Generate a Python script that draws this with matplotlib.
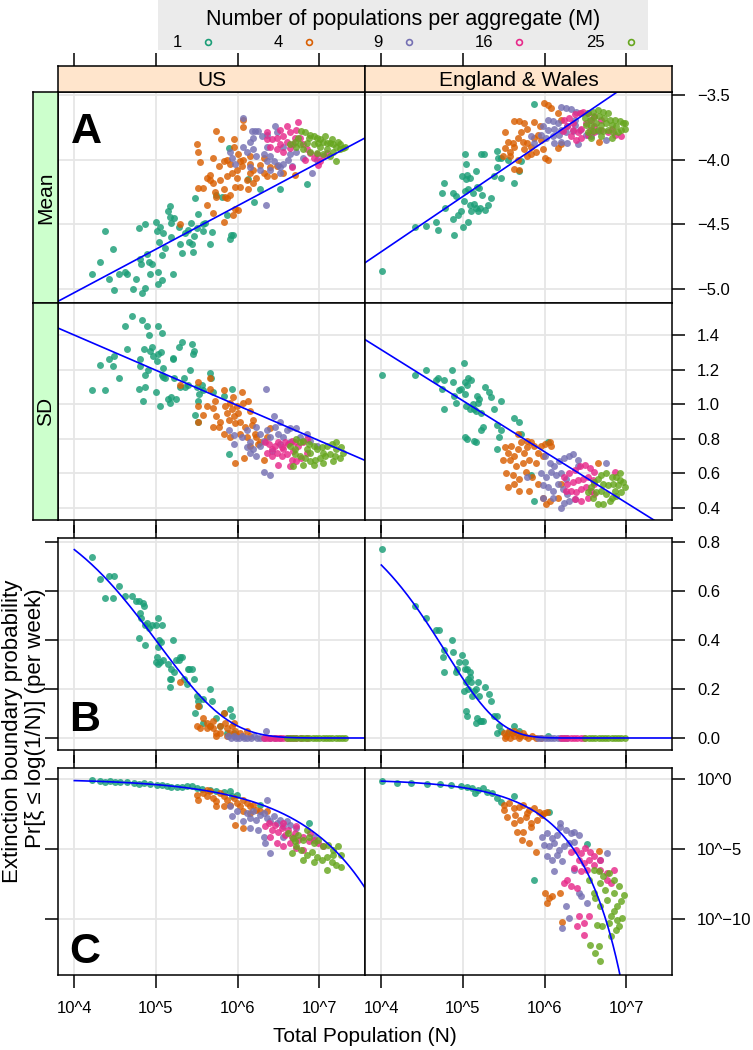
import numpy as np
import matplotlib
matplotlib.use("Agg")
import matplotlib.pyplot as plt
from matplotlib.patches import Rectangle
from math import erfc, sqrt

plt.rcParams['font.family'] = ['Liberation Sans', 'DejaVu Sans']

# ---------------- data ----------------
M_VALUES = [1, 4, 9, 16, 25]
M_COLORS = ['#1B9E77', '#D95F02', '#7570B3', '#E7298A', '#66A61E']
COUNTRIES = ['US', 'England & Wales']
X_TICKS = [4, 5, 6, 7]
X_TICK_LABELS = ['10^4', '10^5', '10^6', '10^7']
MEAN_TICKS = [-5.0, -4.5, -4.0, -3.5]
MEAN_TICK_LABELS = ['\u22125.0', '\u22124.5', '\u22124.0', '\u22123.5']
SD_TICKS = [0.4, 0.6, 0.8, 1.0, 1.2, 1.4]
SD_TICK_LABELS = ['0.4', '0.6', '0.8', '1.0', '1.2', '1.4']
PROB_TICKS = [0.0, 0.2, 0.4, 0.6, 0.8]
PROB_TICK_LABELS = ['0.0', '0.2', '0.4', '0.6', '0.8']
LOGPROB_TICKS = [0, -5, -10]
LOGPROB_TICK_LABELS = ['10^0', '10^\u22125', '10^\u221210']

# fitted lines in log10(N): (intercept, slope)
mean_fit_us = (-6.371, 0.3358)
sd_fit_us = (2.215, -0.2037)
mean_fit_ew = (-6.421, 0.4274)
sd_fit_ew = (2.496, -0.2952)

# ---- Panel A (Mean), US ----  (log10 N, mean)
us_mean_m1 = [(4.22,-4.88),(4.32,-4.79),(4.38,-4.55),(4.47,-4.69),(4.42,-4.92),(4.49,-5.01),(4.55,-4.88),
    (4.62,-4.87),(4.64,-4.88),(4.72,-5.00),(4.76,-4.92),(4.79,-4.53),(4.80,-4.77),(4.82,-4.81),(4.83,-5.03),
    (4.86,-4.99),(4.87,-4.50),(4.89,-4.73),(4.91,-4.79),(4.93,-4.88),(4.95,-4.81),(5.00,-4.48),(5.01,-4.55),
    (5.02,-4.87),(5.03,-4.96),(5.04,-4.64),(5.05,-4.52),(5.07,-4.74),(5.07,-4.93),(5.09,-4.57),(5.11,-4.68),
    (5.15,-4.40),(5.17,-4.36),(5.17,-4.44),(5.18,-4.49),(5.19,-4.60),(5.21,-4.88),(5.22,-4.45),(5.28,-4.52),
    (5.30,-4.65),(5.32,-4.72),(5.36,-4.57),(5.39,-4.54),(5.41,-4.64),(5.43,-4.49),(5.44,-4.65),(5.45,-4.71),
    (5.47,-4.59),(5.48,-4.30),(5.50,-4.53),(5.52,-4.42),(5.57,-4.55),(5.58,-4.50),(5.60,-4.49),(5.66,-4.65),
    (5.68,-4.56),(5.74,-4.27),(5.81,-4.29),(5.87,-4.43),(5.91,-4.61),(5.92,-4.58),(5.94,-4.58),(5.89,-3.91),
    (6.13,-4.15),(6.20,-4.33),(6.28,-4.23),(6.52,-4.23),(6.85,-4.19)]
us_mean_m4 = [(5.74,-3.78),(5.80,-3.84),(6.07,-3.69),(6.06,-3.75),(5.95,-3.84),(5.96,-3.90),(5.50,-3.88),
    (5.51,-3.94),(5.54,-4.02),(5.70,-3.99),(5.83,-4.01),(5.77,-4.05),(5.87,-4.00),(5.91,-4.03),(6.01,-3.96),
    (6.03,-4.01),(6.05,-4.05),(6.07,-4.00),(6.15,-4.03),(5.99,-4.08),(5.93,-4.10),(5.87,-4.13),(5.79,-4.16),
    (5.66,-4.12),(5.66,-4.16),(5.62,-4.14),(5.70,-4.18),(5.72,-4.25),(5.74,-4.29),(5.83,-4.23),(5.85,-4.29),
    (5.91,-4.27),(5.87,-4.30),(5.97,-4.21),(5.99,-4.14),(6.03,-4.21),(6.11,-4.16),(6.13,-4.23),(6.15,-4.10),
    (6.19,-4.08),(6.23,-4.14),(6.32,-4.10),(6.36,-4.13),(6.40,-4.06),(6.44,-4.13),(6.48,-4.05),(6.56,-4.10),
    (6.70,-4.12),(5.52,-4.22),(5.58,-4.22),(5.62,-4.35),(5.70,-4.41),(5.83,-4.48),(5.94,-4.43),(5.30,-4.50),
    (5.97,-4.38),(6.01,-4.39),(6.15,-3.97),(6.27,-4.04),(6.19,-4.18),(6.32,-3.99)]
us_mean_m9 = [(6.06,-3.68),(6.17,-3.78),(6.21,-3.78),(6.25,-3.78),(6.15,-3.86),(6.19,-3.83),(6.30,-3.82),
    (6.36,-3.81),(6.46,-3.74),(6.48,-3.79),(5.91,-3.94),(5.93,-3.99),(5.97,-4.03),(6.11,-3.94),(6.19,-3.92),
    (6.23,-3.97),(6.32,-3.96),(6.36,-4.01),(6.40,-3.97),(6.44,-4.01),(6.50,-4.04),(6.52,-4.06),(6.56,-4.03),
    (6.62,-4.00),(6.66,-4.05),(6.15,-4.06),(6.27,-4.08),(6.40,-4.08),(6.52,-4.10),(6.64,-3.96),(6.72,-3.94),
    (6.80,-3.99),(6.91,-4.10),(6.97,-4.00),(6.35,-4.35),(6.07,-3.90),(6.56,-3.90),(6.36,-3.90)]
us_mean_m16 = [(6.36,-3.79),(6.42,-3.84),(6.48,-3.83),(6.52,-3.88),(6.56,-3.82),(6.60,-3.86),(6.64,-3.79),
    (6.68,-3.88),(6.74,-3.71),(6.72,-3.77),(6.76,-3.83),(6.80,-3.88),(6.85,-3.92),(6.89,-3.95),(6.93,-3.99),
    (6.97,-3.96),(7.01,-4.01),(7.05,-3.97),(7.09,-3.95),(6.83,-4.00),(6.66,-4.06),(6.56,-3.94),(6.48,-3.92),
    (6.40,-3.90),(6.52,-3.77),(6.60,-3.74),(6.70,-3.83),(6.64,-3.91),(6.99,-4.04),(6.36,-3.84)]
us_mean_m25 = [(6.64,-3.88),(6.70,-3.86),(6.74,-3.83),(6.78,-3.78),(6.83,-3.79),(6.89,-3.81),(6.93,-3.82),
    (6.97,-3.83),(7.01,-3.84),(7.05,-3.86),(7.09,-3.87),(7.13,-3.87),(7.17,-3.88),(7.21,-3.90),(7.25,-3.88),
    (7.29,-3.91),(7.31,-3.90),(6.76,-3.88),(6.85,-3.87),(6.93,-3.88),(7.01,-3.90),(7.09,-3.92),(7.17,-3.94),
    (7.25,-3.92),(6.80,-3.92),(6.89,-3.94),(6.97,-3.95),(7.05,-3.96),(7.13,-3.97),(7.21,-4.01),(6.87,-3.83),
    (6.99,-3.87),(7.07,-3.82),(7.15,-3.84),(7.23,-3.86),(6.72,-3.90)]

# ---- Panel A (Mean), England & Wales ----
ew_mean_m1 = [(4.01,-4.86),(4.41,-4.52),(4.55,-4.51),(4.67,-4.48),(4.70,-4.54),(4.74,-4.26),(4.77,-4.18),
    (4.78,-4.37),(4.88,-4.46),(4.89,-4.58),(4.88,-4.26),(4.91,-4.28),(4.94,-4.43),(4.97,-4.40),(4.99,-4.13),
    (5.00,-4.52),(5.01,-4.32),(5.02,-4.24),(5.03,-3.96),(5.04,-4.03),(5.04,-4.15),(5.05,-4.12),(5.06,-4.23),
    (5.06,-4.48),(5.08,-4.14),(5.08,-4.35),(5.10,-4.40),(5.12,-4.26),(5.14,-4.34),(5.16,-4.37),(5.16,-4.09),
    (5.17,-4.21),(5.18,-4.40),(5.20,-4.22),(5.21,-4.37),(5.22,-3.96),(5.23,-4.27),(5.26,-3.96),(5.27,-4.39),
    (5.31,-4.35),(5.34,-4.30),(5.38,-4.13),(5.42,-4.06),(5.42,-3.93),(5.43,-3.99),(5.46,-4.14),(5.47,-3.99),
    (5.63,-4.18),(5.69,-4.09),(5.87,-3.57),(5.55,-4.00),(5.71,-4.01)]
ew_mean_m4 = [(5.99,-3.56),(6.04,-3.58),(6.08,-3.60),(6.16,-3.64),(5.63,-3.70),(5.69,-3.70),(5.75,-3.72),
    (5.87,-3.71),(5.79,-3.76),(5.71,-3.79),(5.67,-3.83),(5.52,-3.79),(5.55,-3.86),(5.61,-3.87),(5.51,-3.91),
    (5.57,-3.94),(5.63,-3.90),(5.73,-3.86),(5.79,-3.87),(5.83,-3.90),(5.87,-3.83),(5.92,-3.81),(5.96,-3.85),
    (5.83,-3.96),(5.90,-3.94),(5.98,-3.92),(6.04,-4.00),(6.00,-3.99),(5.79,-3.97),(5.67,-4.00),(5.62,-4.07),
    (5.69,-4.08),(5.49,-3.97),(5.57,-3.97),(5.75,-3.92),(6.20,-3.69),(6.16,-3.91),(6.67,-3.86),(6.20,-3.88),
    (5.94,-3.74)]
ew_mean_m9 = [(6.20,-3.59),(6.26,-3.60),(6.32,-3.61),(6.39,-3.63),(6.45,-3.64),(6.04,-3.69),(6.10,-3.70),
    (6.16,-3.72),(5.98,-3.74),(6.04,-3.77),(6.12,-3.76),(6.20,-3.77),(6.28,-3.74),(6.37,-3.73),(5.96,-3.81),
    (6.02,-3.83),(6.10,-3.82),(6.18,-3.81),(6.26,-3.79),(6.35,-3.78),(6.43,-3.77),(6.51,-3.81),(6.20,-3.86),
    (6.28,-3.87),(6.41,-3.88),(5.87,-3.87),(6.12,-3.87),(6.57,-3.82),(6.75,-3.85),(6.65,-3.78),(5.83,-3.82),
    (6.37,-3.69)]
ew_mean_m16 = [(6.24,-3.69),(6.30,-3.68),(6.37,-3.65),(6.43,-3.64),(6.47,-3.63),(6.53,-3.64),(6.28,-3.74),
    (6.35,-3.77),(6.41,-3.79),(6.45,-3.76),(6.51,-3.72),(6.57,-3.69),(6.61,-3.66),(6.32,-3.82),(6.39,-3.85),
    (6.45,-3.83),(6.53,-3.81),(6.61,-3.79),(6.69,-3.77),(6.78,-3.79),(6.86,-3.81),(6.94,-3.82),(6.61,-3.74),
    (6.69,-3.69),(6.35,-3.72),(6.55,-3.77),(6.82,-3.76),(6.22,-3.78)]
ew_mean_m25 = [(6.53,-3.64),(6.59,-3.63),(6.65,-3.62),(6.71,-3.63),(6.78,-3.64),(6.49,-3.68),(6.55,-3.69),
    (6.61,-3.67),(6.67,-3.66),(6.73,-3.68),(6.80,-3.69),(6.86,-3.69),(6.92,-3.70),(6.96,-3.72),(6.98,-3.76),
    (6.51,-3.73),(6.57,-3.74),(6.63,-3.72),(6.69,-3.73),(6.75,-3.72),(6.82,-3.73),(6.88,-3.74),(6.94,-3.77),
    (6.53,-3.79),(6.59,-3.78),(6.65,-3.77),(6.71,-3.78),(6.78,-3.77),(6.84,-3.79),(6.90,-3.79),(6.57,-3.83),
    (6.69,-3.82),(6.82,-3.83),(6.98,-3.72)]

# ---- SD, US ----
us_sd_m1 = [(4.22,1.08),(4.31,1.23),(4.38,1.08),(4.42,1.26),(4.47,1.22),(4.49,1.28),(4.55,1.15),(4.62,1.45),
    (4.64,1.32),(4.71,1.51),(4.79,1.09),(4.80,1.26),(4.81,1.22),(4.83,1.49),(4.84,1.02),(4.85,1.32),(4.86,1.10),
    (4.87,1.17),(4.89,1.45),(4.90,1.20),(4.92,1.40),(4.93,1.31),(4.95,1.33),(4.96,1.28),(5.00,1.07),(5.01,1.25),
    (5.02,1.45),(5.03,1.29),(5.05,0.99),(5.06,1.30),(5.07,1.41),(5.07,1.17),(5.08,1.21),(5.09,1.16),(5.11,1.15),
    (5.15,1.03),(5.17,1.01),(5.19,1.04),(5.21,1.27),(5.21,1.26),(5.22,1.15),(5.24,1.03),(5.28,1.33),(5.30,1.10),
    (5.32,1.36),(5.34,1.15),(5.36,1.10),(5.39,1.11),(5.42,1.20),(5.44,1.35),(5.45,1.29),(5.46,1.31),(5.48,0.94),
    (5.50,1.10),(5.52,1.02),(5.53,1.06),(5.52,0.90),(5.56,1.11),(5.58,1.08),(5.66,1.18),(5.67,1.15),(5.70,1.07),
    (5.83,1.05),(5.89,0.71),(5.93,1.09)]
us_sd_m4 = [(5.30,1.11),(5.52,1.13),(5.52,0.99),(5.52,0.90),(5.58,0.94),(5.62,0.99),(5.66,1.15),(5.66,1.09),
    (5.70,0.98),(5.72,1.02),(5.74,0.93),(5.77,0.87),(5.79,0.90),(5.83,1.08),(5.85,0.99),(5.87,0.95),(5.89,0.91),
    (5.91,1.01),(5.93,0.97),(5.94,1.04),(5.95,0.93),(5.97,0.89),(5.99,0.99),(6.01,0.95),(6.03,0.90),(6.05,1.07),
    (6.07,1.01),(6.09,0.87),(6.11,0.81),(6.13,1.02),(6.15,0.96),(6.17,0.88),(6.19,0.91),(6.21,0.83),(6.23,0.81),
    (6.25,0.77),(6.27,0.78),(6.32,0.68),(5.97,0.66),(6.08,0.69),(5.83,0.83),(5.91,0.81),(6.03,0.83),(6.15,0.76),
    (6.40,0.86),(6.36,0.81),(5.70,0.87)]
us_sd_m9 = [(6.35,1.09),(5.89,0.85),(5.95,0.82),(5.96,0.77),(6.05,0.81),(6.11,0.85),(6.15,0.78),(6.19,0.74),
    (6.23,0.87),(6.27,0.83),(6.32,0.79),(6.36,0.85),(6.40,0.81),(6.44,0.93),(6.46,0.87),(6.50,0.83),(6.52,0.90),
    (6.56,0.81),(6.60,0.85),(6.64,0.86),(6.72,0.86),(6.76,0.81),(6.85,0.83),(6.89,0.79),(6.15,0.72),(6.23,0.70),
    (6.32,0.61),(6.40,0.59),(6.27,0.76),(6.52,0.77),(6.64,0.78),(6.97,0.76),(6.42,0.73),(6.11,0.75)]
us_sd_m16 = [(6.34,0.78),(6.38,0.77),(6.42,0.74),(6.46,0.76),(6.50,0.78),(6.54,0.75),(6.58,0.78),(6.62,0.77),
    (6.66,0.79),(6.70,0.78),(6.74,0.76),(6.80,0.78),(6.85,0.80),(6.36,0.72),(6.42,0.70),(6.48,0.72),(6.54,0.70),
    (6.60,0.71),(6.66,0.68),(6.72,0.67),(6.78,0.69),(6.50,0.65),(6.64,0.64),(6.85,0.72),(6.56,0.74),(6.68,0.73)]
us_sd_m25 = [(6.64,0.76),(6.70,0.74),(6.76,0.78),(6.80,0.79),(6.87,0.77),(6.93,0.76),(6.97,0.74),(7.03,0.75),
    (7.09,0.76),(7.15,0.77),(7.21,0.78),(7.27,0.75),(7.29,0.72),(7.25,0.69),(7.19,0.70),(7.13,0.71),(7.07,0.70),
    (7.01,0.69),(6.95,0.68),(6.89,0.67),(6.83,0.69),(6.76,0.70),(6.70,0.71),(6.68,0.64),(6.80,0.65),(6.93,0.65),
    (7.05,0.66),(7.17,0.67),(6.72,0.80),(6.89,0.72),(7.05,0.72),(7.21,0.74),(6.85,0.74)]

# ---- SD, England & Wales ----
ew_sd_m1 = [(4.01,1.17),(4.41,1.17),(4.55,1.20),(4.67,1.14),(4.70,1.15),(4.74,1.09),(4.77,1.14),(4.77,0.97),
    (4.87,1.20),(4.88,1.13),(4.89,1.05),(4.91,1.01),(4.95,1.08),(4.97,1.09),(5.01,1.24),(5.02,1.13),(5.02,1.06),
    (5.04,0.99),(5.05,1.11),(5.06,1.15),(5.08,0.97),(5.10,1.14),(5.12,1.00),(5.14,0.97),(5.16,0.96),(5.17,1.05),
    (5.18,1.01),(5.20,1.03),(5.22,0.95),(5.27,1.10),(5.32,1.07),(5.34,1.04),(5.38,0.97),(5.42,0.88),(5.44,0.81),
    (5.46,1.02),(5.47,0.85),(5.63,0.92),(5.69,0.90),(5.42,0.74),(5.02,0.81),(5.05,0.80),(5.14,0.79),(5.16,0.78),
    (5.22,0.85),(5.25,0.87),(5.87,0.44),(6.04,0.78),(5.83,0.59),(5.71,0.83)]
ew_sd_m4 = [(5.51,0.75),(5.55,0.72),(5.59,0.76),(5.63,0.70),(5.67,0.74),(5.71,0.78),(5.75,0.72),(5.79,0.75),
    (5.83,0.78),(5.87,0.76),(5.92,0.72),(5.96,0.76),(6.00,0.77),(6.06,0.78),(5.98,0.70),(5.90,0.66),(5.81,0.68),
    (5.73,0.66),(5.65,0.64),(5.57,0.68),(5.49,0.68),(5.53,0.60),(5.61,0.59),(5.69,0.57),(5.77,0.61),(5.85,0.58),
    (5.92,0.54),(5.81,0.50),(5.69,0.50),(5.63,0.54),(5.55,0.52),(6.02,0.42),(6.06,0.44),(5.98,0.46),(6.16,0.46),
    (6.20,0.54),(6.65,0.66),(5.67,0.83),(5.79,0.79),(6.08,0.76)]
ew_sd_m9 = [(6.00,0.70),(6.06,0.66),(6.12,0.64),(6.18,0.67),(6.24,0.69),(6.30,0.70),(6.35,0.71),(6.41,0.68),
    (5.96,0.60),(6.02,0.58),(6.08,0.61),(6.14,0.59),(6.20,0.60),(6.26,0.57),(5.98,0.53),(6.04,0.52),(6.10,0.50),
    (6.16,0.54),(6.22,0.51),(6.28,0.48),(6.24,0.43),(6.30,0.44),(6.37,0.45),(6.20,0.40),(6.75,0.66),(6.41,0.64),
    (5.98,0.46),(6.10,0.46),(5.79,0.58)]
ew_sd_m16 = [(6.24,0.58),(6.30,0.60),(6.37,0.62),(6.43,0.64),(6.49,0.65),(6.55,0.63),(6.61,0.61),(6.28,0.54),
    (6.35,0.55),(6.41,0.56),(6.47,0.57),(6.53,0.58),(6.59,0.56),(6.32,0.50),(6.39,0.49),(6.45,0.51),(6.51,0.52),
    (6.57,0.50),(6.37,0.45),(6.45,0.44),(6.53,0.46),(6.61,0.48),(6.26,0.50),(6.86,0.61),(6.61,0.54)]
ew_sd_m25 = [(6.57,0.52),(6.61,0.55),(6.65,0.57),(6.69,0.59),(6.75,0.60),(6.82,0.58),(6.88,0.58),(6.92,0.60),
    (6.96,0.55),(6.98,0.52),(6.94,0.49),(6.88,0.47),(6.82,0.46),(6.75,0.48),(6.69,0.50),(6.63,0.49),(6.59,0.46),
    (6.65,0.42),(6.71,0.42),(6.80,0.44),(6.86,0.50),(6.78,0.53),(6.90,0.53),(6.71,0.54),(6.84,0.54),(6.53,0.49),
    (6.92,0.56)]

# ---- B: extinction boundary probability, US ----
us_prob_m1 = [(4.22,0.74),(4.31,0.65),(4.38,0.57),(4.43,0.66),(4.47,0.57),(4.49,0.66),(4.55,0.62),(4.62,0.58),
    (4.71,0.58),(4.75,0.56),(4.79,0.56),(4.81,0.51),(4.82,0.49),(4.84,0.55),(4.85,0.54),(4.87,0.46),(4.89,0.47),
    (4.79,0.41),(4.87,0.38),(4.91,0.45),(4.95,0.46),(5.00,0.46),(5.02,0.49),(5.03,0.37),(5.04,0.40),(5.06,0.39),
    (5.07,0.46),(5.01,0.33),(5.00,0.31),(5.03,0.30),(5.05,0.31),(5.08,0.32),(5.15,0.30),(5.17,0.24),(5.17,0.21),
    (5.18,0.24),(5.19,0.28),(5.21,0.40),(5.22,0.27),(5.24,0.32),(5.28,0.32),(5.30,0.33),(5.32,0.33),(5.34,0.24),
    (5.38,0.22),(5.39,0.28),(5.41,0.28),(5.44,0.28),(5.46,0.24),(5.50,0.17),(5.52,0.15),(5.53,0.13),(5.48,0.10),
    (5.58,0.16),(5.66,0.20),(5.68,0.15),(5.83,0.10),(5.91,0.12),(5.93,0.09),(5.74,0.08),(5.79,0.05),(5.87,0.02),
    (5.95,0.02),(5.66,0.05),(5.58,0.06)]
us_prob_m4 = [(5.30,0.23),(5.52,0.13),(5.50,0.05),(5.54,0.04),(5.58,0.08),(5.62,0.06),(5.66,0.05),(5.70,0.04),
    (5.74,0.02),(5.79,0.02),(5.83,0.10),(5.85,0.06),(5.87,0.04),(5.91,0.02),(5.93,0.05),(5.95,0.06),(5.97,0.03),
    (5.99,0.01),(6.03,0.02),(6.07,0.01),(6.11,0.03),(6.15,0.01),(5.79,0.05),(5.70,0.07),(5.62,0.04),(5.87,0.01),
    (5.74,0.01)]
us_prob_m9 = [(5.88,0.01),(5.92,0.00),(5.95,0.01),(5.98,0.00),(6.02,0.00),(6.05,0.01),(6.08,0.00),(6.12,0.00),
    (6.16,0.00),(6.20,0.01),(6.24,0.00),(6.28,0.00),(6.35,0.03),(6.32,0.00),(6.40,0.00),(6.46,0.00),(6.52,0.00)]
us_prob_m16 = [(6.32,0.00),(6.36,0.00),(6.40,0.00),(6.44,0.00),(6.48,0.00),(6.52,0.00),(6.56,0.00),(6.60,0.00),
    (6.64,0.00),(6.68,0.00),(6.72,0.00),(6.78,0.00),(6.85,0.00)]
us_prob_m25 = [(6.60,0.00),(6.64,0.00),(6.68,0.00),(6.72,0.00),(6.76,0.00),(6.80,0.00),(6.84,0.00),(6.88,0.00),
    (6.92,0.00),(6.96,0.00),(7.00,0.00),(7.04,0.00),(7.08,0.00),(7.12,0.00),(7.16,0.00),(7.20,0.00),(7.24,0.00),
    (7.28,0.00),(7.31,0.00)]

# ---- B, England & Wales ----
ew_prob_m1 = [(4.01,0.77),(4.41,0.54),(4.55,0.49),(4.67,0.44),(4.71,0.44),(4.75,0.33),(4.77,0.36),(4.77,0.27),
    (4.88,0.35),(4.87,0.40),(4.91,0.27),(4.93,0.28),(4.95,0.31),(4.99,0.34),(5.01,0.19),(5.02,0.31),(5.02,0.28),
    (5.04,0.23),(5.05,0.28),(5.06,0.20),(5.06,0.24),(5.08,0.25),(5.09,0.27),(5.10,0.23),(5.04,0.11),(5.05,0.09),
    (5.11,0.17),(5.13,0.19),(5.16,0.20),(5.18,0.23),(5.20,0.17),(5.16,0.06),(5.17,0.08),(5.21,0.07),(5.22,0.07),
    (5.24,0.07),(5.27,0.21),(5.32,0.18),(5.34,0.15),(5.38,0.09),(5.42,0.09),(5.44,0.05),(5.42,0.02),(5.47,0.03),
    (5.63,0.05),(5.69,0.03),(5.55,0.02),(6.04,0.01)]
ew_prob_m4 = [(5.50,0.02),(5.53,0.01),(5.56,0.03),(5.60,0.02),(5.63,0.01),(5.66,0.02),(5.70,0.01),(5.73,0.02),
    (5.76,0.01),(5.80,0.00),(5.85,0.01),(5.90,0.00),(5.95,0.00),(5.58,0.00),(5.68,0.00),(5.52,0.00),(5.62,0.03)]
ew_prob_m9 = [(5.92,0.00),(5.96,0.00),(6.00,0.00),(6.04,0.00),(6.08,0.00),(6.12,0.00),(6.16,0.00),(6.20,0.00),
    (6.24,0.00),(6.28,0.00)]
ew_prob_m16 = [(6.20,0.00),(6.24,0.00),(6.28,0.00),(6.32,0.00),(6.36,0.00),(6.40,0.00),(6.44,0.00),(6.48,0.00)]
ew_prob_m25 = [(6.50,0.00),(6.54,0.00),(6.58,0.00),(6.62,0.00),(6.66,0.00),(6.70,0.00),(6.74,0.00),(6.78,0.00),
    (6.82,0.00),(6.86,0.00),(6.90,0.00),(6.94,0.00),(6.98,0.00)]

# ---- C: log10 probability, US ----
us_logprob_m1 = [(4.22,-0.10),(4.32,-0.14),(4.38,-0.19),(4.44,-0.17),(4.50,-0.21),(4.56,-0.21),(4.64,-0.21),
    (4.73,-0.29),(4.79,-0.33),(4.85,-0.29),(4.93,-0.36),(5.01,-0.41),(5.07,-0.41),(5.13,-0.53),(5.19,-0.60),
    (5.26,-0.57),(5.32,-0.60),(5.38,-0.48),(5.44,-0.48),(5.50,-0.64),(5.56,-0.72),(5.66,-0.76),(5.74,-0.88),
    (5.83,-0.95),(5.91,-0.88),(5.99,-1.12),(6.27,-1.84),(6.87,-3.15),(5.93,-1.24)]
us_logprob_m4 = [(5.50,-1.12),(5.52,-1.48),(5.58,-1.00),(5.62,-1.24),(5.66,-0.88),(5.70,-1.36),(5.74,-1.60),
    (5.79,-1.00),(5.83,-1.24),(5.87,-1.48),(5.91,-1.84),(5.95,-1.36),(5.99,-1.72),(6.03,-1.96),(6.07,-1.48),
    (6.11,-1.72),(6.15,-1.96),(6.19,-1.84),(6.23,-2.20),(6.27,-2.32),(5.97,-3.27),(6.07,-3.51),(5.83,-1.96),
    (5.74,-1.96),(6.07,-2.32),(6.15,-2.43),(5.62,-0.76),(6.36,-2.32)]
us_logprob_m9 = [(5.91,-1.96),(5.93,-2.67),(5.99,-2.32),(6.11,-2.43),(6.15,-2.79),(6.19,-2.32),(6.23,-2.91),
    (6.27,-2.55),(6.32,-2.43),(6.36,-1.48),(6.36,-2.79),(6.40,-3.03),(6.44,-2.67),(6.48,-3.15),(6.52,-2.91),
    (6.56,-3.39),(6.60,-3.03),(6.64,-3.27),(6.15,-3.51),(6.25,-3.63),(6.32,-4.11),(6.34,-4.58),(6.40,-5.30),
    (6.56,-4.11),(6.93,-4.11),(6.72,-3.51),(6.07,-3.03)]
us_logprob_m16 = [(6.34,-3.39),(6.38,-3.15),(6.42,-3.63),(6.46,-3.27),(6.50,-3.75),(6.54,-3.51),(6.58,-3.99),
    (6.62,-3.63),(6.66,-4.11),(6.70,-3.87),(6.74,-4.34),(6.80,-4.11),(6.87,-4.46),(6.93,-4.34),(6.99,-4.58),
    (7.05,-4.82),(6.48,-4.58),(6.56,-4.82),(6.64,-4.58),(6.72,-4.94),(6.80,-5.06),(6.40,-4.11),(6.56,-3.15),
    (6.72,-3.39),(6.89,-3.87)]
us_logprob_m25 = [(6.62,-3.87),(6.68,-4.22),(6.74,-3.99),(6.80,-4.34),(6.87,-4.11),(6.93,-4.58),(6.99,-4.34),
    (7.05,-4.82),(7.11,-4.70),(7.17,-5.06),(7.23,-4.82),(7.27,-5.42),(6.66,-5.30),(6.72,-4.82),(6.78,-5.06),
    (6.85,-5.42),(6.91,-5.18),(6.97,-5.54),(7.03,-5.78),(7.09,-5.54),(7.15,-5.90),(7.21,-6.13),(7.27,-6.25),
    (7.09,-6.49),(6.93,-5.90),(6.80,-5.78),(7.17,-5.42),(6.85,-3.63),(6.70,-4.46)]

# ---- C, England & Wales ----
ew_logprob_m1 = [(4.01,-0.14),(4.19,-0.26),(4.36,-0.31),(4.56,-0.36),(4.72,-0.36),(4.85,-0.43),(4.97,-0.50),
    (5.05,-0.59),(5.11,-0.67),(5.15,-1.02),(5.19,-0.78),(5.25,-0.67),(5.30,-0.90),(5.36,-1.02),(5.42,-1.38),
    (5.46,-1.62),(5.62,-1.21),(5.87,-7.20),(6.05,-2.33),(6.52,-4.63)]
ew_logprob_m4 = [(5.50,-1.85),(5.56,-1.73),(5.62,-2.09),(5.68,-1.97),(5.74,-1.85),(5.81,-2.21),(5.87,-2.09),
    (5.93,-2.33),(5.99,-2.45),(5.54,-2.68),(5.62,-3.16),(5.70,-2.92),(5.77,-2.68),(5.83,-3.16),(5.91,-2.92),
    (5.66,-3.75),(5.74,-3.75),(5.83,-3.40),(5.72,-4.35),(5.81,-4.58),(5.89,-5.18),(5.97,-2.57),(6.03,-2.33),
    (5.64,-2.57),(5.79,-2.45),(6.01,-8.15),(6.05,-8.50),(6.03,-8.86),(6.09,-8.38),(6.19,-8.15),(6.21,-10.24),
    (6.66,-5.11),(5.50,-2.21)]
ew_logprob_m9 = [(5.97,-4.11),(6.03,-3.87),(6.09,-4.23),(6.15,-3.99),(6.19,-3.40),(6.26,-3.63),(6.32,-3.87),
    (6.36,-3.75),(6.42,-3.99),(5.99,-4.70),(6.05,-4.82),(6.11,-4.59),(6.17,-5.06),(6.24,-4.82),(6.30,-4.59),
    (6.36,-4.47),(6.03,-5.53),(6.09,-5.77),(6.15,-5.42),(6.21,-5.89),(6.11,-6.60),(6.36,-6.48),(6.42,-8.15),
    (6.44,-8.38),(6.52,-8.86),(6.26,-9.10),(6.30,-9.93),(6.21,-10.64),(6.77,-5.30),(6.19,-3.16),(6.68,-5.77)]
ew_logprob_m16 = [(6.32,-5.18),(6.38,-5.06),(6.44,-5.30),(6.50,-4.94),(6.56,-5.18),(6.42,-5.77),(6.48,-6.01),
    (6.54,-5.77),(6.60,-6.13),(6.36,-6.37),(6.44,-6.60),(6.52,-6.48),(6.68,-6.48),(6.77,-6.72),(6.85,-6.48),
    (6.24,-7.43),(6.32,-7.67),(6.40,-7.79),(6.28,-7.20),(6.77,-7.20),(6.81,-7.43),(6.42,-9.81),(6.48,-10.29),
    (6.54,-9.81),(6.48,-11.12),(6.40,-10.52),(6.60,-5.53),(6.68,-5.77)]
ew_logprob_m25 = [(6.60,-6.48),(6.66,-6.60),(6.72,-6.96),(6.79,-6.72),(6.85,-7.20),(6.91,-7.67),(6.97,-8.27),
    (6.93,-8.74),(6.89,-9.10),(6.85,-9.45),(6.81,-9.81),(6.89,-10.05),(6.95,-9.93),(6.68,-7.43),(6.74,-7.91),
    (6.62,-8.50),(6.68,-9.10),(6.77,-8.62),(6.85,-8.15),(6.64,-10.40),(6.70,-10.52),(6.79,-10.29),(6.87,-10.76),
    (6.56,-11.83),(6.62,-12.42),(6.68,-13.02),(6.66,-11.95),(6.81,-11.24),(6.91,-10.52),(6.60,-8.15),(6.54,-7.20)]

# ---------------- layout / style ----------------
W, H = 753, 1050
fig = plt.figure(figsize=(W / 100, H / 100), dpi=100)
fig.patch.set_facecolor('white')

XLIM = (3.80, 7.56)
YLIM_MEAN = (-5.108, -3.477)
YLIM_SD = (0.330, 1.586)
YLIM_PROB = (-0.049, 0.816)
YLIM_LOGP = (-14.0, 0.786)

GRID = '#E6E6E6'
LW = 1.1
TICK_LEN = 9.5
FS_TICK = 12
FS_LAB = 15


def px_axes(x0, y0, x1, y1):
    return fig.add_axes([x0 / W, 1 - y1 / H, (x1 - x0) / W, (y1 - y0) / H])


def fx(x):
    return x / W


def fy(y):
    return 1 - y / H


def setup(ax, ylim, yticks, ylabels=None, left=False, right=False, top=False,
          bottom=False, xlabels=False):
    ax.set_xlim(*XLIM)
    ax.set_ylim(*ylim)
    ax.set_xticks(X_TICKS)
    ax.set_yticks(yticks)
    for v in X_TICKS:
        ax.axvline(v, color=GRID, lw=1.3, zorder=0)
    for v in yticks:
        ax.axhline(v, color=GRID, lw=1.3, zorder=0)
    ax.tick_params(axis='x', direction='out', length=TICK_LEN, width=LW, top=top,
                   bottom=bottom, labeltop=False, labelbottom=xlabels,
                   labelsize=FS_TICK, pad=9.5)
    ax.tick_params(axis='y', direction='out', length=TICK_LEN, width=LW, left=left,
                   right=right, labelleft=False, labelright=ylabels is not None,
                   labelsize=FS_TICK, pad=8.5)
    if xlabels:
        ax.set_xticklabels(X_TICK_LABELS)
    if ylabels is not None:
        ax.set_yticklabels(ylabels)
    for s in ax.spines.values():
        s.set_linewidth(LW)
        s.set_zorder(5)


def scatter_groups(ax, groups):
    for pts, col in zip(groups, M_COLORS):
        arr = np.array(pts, dtype=float)
        ax.scatter(arr[:, 0], arr[:, 1], s=25, color=col, alpha=0.82,
                   linewidths=0, zorder=2)


def norm_cdf(z):
    return 0.5 * erfc(-z / sqrt(2.0))


X0, XM, X1 = 58, 365, 672
ROWS = {'mean': (92, 303), 'sd': (303, 520), 'prob': (538, 750), 'logp': (768, 975)}

panels = {
    ('US', 'mean'): [us_mean_m1, us_mean_m4, us_mean_m9, us_mean_m16, us_mean_m25],
    ('EW', 'mean'): [ew_mean_m1, ew_mean_m4, ew_mean_m9, ew_mean_m16, ew_mean_m25],
    ('US', 'sd'): [us_sd_m1, us_sd_m4, us_sd_m9, us_sd_m16, us_sd_m25],
    ('EW', 'sd'): [ew_sd_m1, ew_sd_m4, ew_sd_m9, ew_sd_m16, ew_sd_m25],
    ('US', 'prob'): [us_prob_m1, us_prob_m4, us_prob_m9, us_prob_m16, us_prob_m25],
    ('EW', 'prob'): [ew_prob_m1, ew_prob_m4, ew_prob_m9, ew_prob_m16, ew_prob_m25],
    ('US', 'logp'): [us_logprob_m1, us_logprob_m4, us_logprob_m9, us_logprob_m16, us_logprob_m25],
    ('EW', 'logp'): [ew_logprob_m1, ew_logprob_m4, ew_logprob_m9, ew_logprob_m16, ew_logprob_m25],
}
fits = {'US': (mean_fit_us, sd_fit_us), 'EW': (mean_fit_ew, sd_fit_ew)}

for ci, c in enumerate(['US', 'EW']):
    xa, xb = (X0, XM) if c == 'US' else (XM, X1)
    is_right = c == 'EW'
    (ma, mb), (sa, sb) = fits[c]

    # --- Mean ---
    y0, y1 = ROWS['mean']
    ax = px_axes(xa, y0, xb, y1)
    setup(ax, YLIM_MEAN, MEAN_TICKS, MEAN_TICK_LABELS if is_right else None,
          right=is_right)
    scatter_groups(ax, panels[(c, 'mean')])
    xx = np.array(XLIM)
    ax.plot(xx, ma + mb * xx, color='#0000FF', lw=1.2, zorder=3)

    # --- SD ---
    y0, y1 = ROWS['sd']
    ax = px_axes(xa, y0, xb, y1)
    setup(ax, YLIM_SD, SD_TICKS, SD_TICK_LABELS if is_right else None,
          right=is_right, bottom=True)
    scatter_groups(ax, panels[(c, 'sd')])
    ax.plot(xx, sa + sb * xx, color='#0000FF', lw=1.2, zorder=3)

    # model curve Pr[xi <= log(1/N)]
    Lg = np.linspace(4.0, XLIM[1], 400)
    mu = ma + mb * Lg
    sdv = sa + sb * Lg
    pr = np.array([norm_cdf((-L - m) / s) for L, m, s in zip(Lg, mu, sdv)])

    # --- B ---
    y0, y1 = ROWS['prob']
    ax = px_axes(xa, y0, xb, y1)
    setup(ax, YLIM_PROB, PROB_TICKS, PROB_TICK_LABELS if is_right else None,
          left=not is_right, right=is_right, top=True, bottom=True)
    scatter_groups(ax, panels[(c, 'prob')])
    ax.plot(Lg, pr, color='#0000FF', lw=1.2, zorder=3)

    # --- C ---
    y0, y1 = ROWS['logp']
    ax = px_axes(xa, y0, xb, y1)
    setup(ax, YLIM_LOGP, LOGPROB_TICKS, LOGPROB_TICK_LABELS if is_right else None,
          left=not is_right, right=is_right, top=True, bottom=True, xlabels=True)
    scatter_groups(ax, panels[(c, 'logp')])
    ax.plot(Lg, np.log10(np.maximum(pr, 1e-300)), color='#0000FF', lw=1.2, zorder=3)

    # --- top strip ---
    sax = px_axes(xa, 66, xb, 92)
    sax.set_facecolor('#FFE5CC')
    sax.set_xlim(*XLIM)
    sax.set_ylim(0, 1)
    sax.set_xticks(X_TICKS)
    sax.set_yticks([])
    sax.tick_params(axis='x', direction='out', length=TICK_LEN, width=LW, top=True,
                    bottom=False, labeltop=False, labelbottom=False)
    for s in sax.spines.values():
        s.set_linewidth(LW)
    sax.text(0.5, 0.45, COUNTRIES[ci], transform=sax.transAxes, ha='center',
             va='center', fontsize=FS_LAB)

# left strips
for name, key in [('Mean', 'mean'), ('SD', 'sd')]:
    y0, y1 = ROWS[key]
    lax = px_axes(33, y0, 58, y1)
    lax.set_facecolor('#CCFFCC')
    lax.set_xticks([])
    lax.set_yticks([])
    for s in lax.spines.values():
        s.set_linewidth(LW)
    lax.text(0.5, 0.5, name, transform=lax.transAxes, rotation=90, ha='center',
             va='center', fontsize=FS_LAB)

# panel letters
for letter, x, y in [('A', 70.5, 143), ('B', 69, 731), ('C', 69, 963)]:
    fig.text(fx(x), fy(y), letter, fontsize=31, fontweight='bold', ha='left',
             va='baseline', zorder=10)

# legend
fig.patches.append(Rectangle((fx(158), fy(50)), fx(648) - fx(158), fy(0) - fy(50),
                             transform=fig.transFigure, facecolor='#EBEBEB',
                             edgecolor='none', zorder=0))
fig.text(fx(403), fy(25), 'Number of populations per aggregate (M)', ha='center',
         va='baseline', fontsize=15.5)
legend_circle_x = [208, 309, 409, 519, 631]
for m, col, cx in zip(M_VALUES, M_COLORS, legend_circle_x):
    fig.text(fx(cx - 26), fy(47), str(m), ha='right', va='baseline', fontsize=FS_TICK)
    fig.lines.append(plt.Line2D([fx(cx)], [fy(41.5)], transform=fig.transFigure,
                                marker='o', markersize=4.2, markerfacecolor='none',
                                markeredgecolor=col, markeredgewidth=1.2, linestyle='none'))

# axis labels
fig.text(fx(13), fy(731), 'Extinction boundary probability', rotation=90,
         ha='center', va='center', fontsize=16)
fig.text(fx(36), fy(718), 'Pr[\u03be \u2264 log(1/N)] (per week)', rotation=90,
         ha='center', va='center', fontsize=16)
fig.text(fx(365), fy(1037), 'Total Population (N)', ha='center', va='center',
         fontsize=FS_LAB)

fig.savefig('out.png', dpi=100, facecolor='white')
